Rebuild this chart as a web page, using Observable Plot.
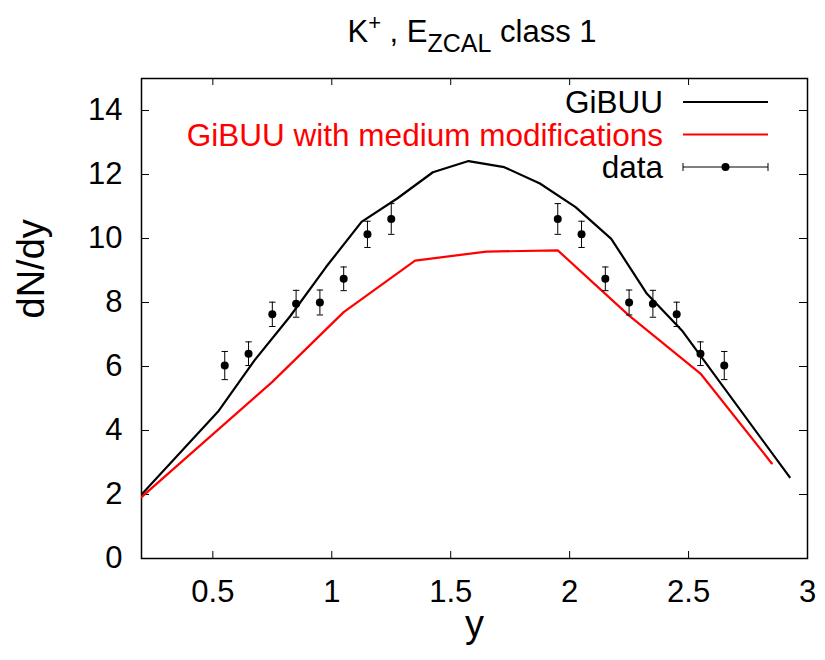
<!DOCTYPE html>
<html><head><meta charset="utf-8">
<script src="https://cdn.jsdelivr.net/npm/d3@7"></script>
<script src="https://cdn.jsdelivr.net/npm/@observablehq/plot@0.6"></script>
<style>
body{margin:0;background:#fff;}
svg{font-family:"Liberation Sans",Arial,Helvetica,sans-serif;}
</style>
</head><body><div id="chart"></div>
<script>
// GiBUU (black)
const gibuuX = [0.2, 0.525, 0.675, 0.825, 0.975, 1.125, 1.275, 1.425, 1.575, 1.725, 1.875, 2.025, 2.175, 2.325, 2.475, 2.925];
const gibuuY = [2.0, 4.62, 6.19, 7.57, 9.10, 10.52, 11.25, 12.07, 12.42, 12.23, 11.72, 10.98, 9.99, 8.27, 7.10, 2.54];
// GiBUU with medium modifications (red)
const mediumX = [0.2, 0.75, 1.05, 1.35, 1.65, 1.95, 2.25, 2.55, 2.85];
const mediumY = [1.92, 5.52, 7.70, 9.31, 9.59, 9.63, 7.59, 5.78, 2.97];
// data with errors
const dataX = [0.55, 0.65, 0.75, 0.85, 0.95, 1.05, 1.15, 1.25, 1.95, 2.05, 2.15, 2.25, 2.35, 2.45, 2.55, 2.65];
const dataY = [6.03, 6.40, 7.63, 7.96, 8.00, 8.74, 10.13, 10.61, 10.61, 10.13, 8.74, 8.00, 7.96, 7.63, 6.40, 6.03];
const dataErr = [0.44, 0.37, 0.38, 0.42, 0.39, 0.37, 0.41, 0.48, 0.48, 0.41, 0.37, 0.39, 0.42, 0.38, 0.37, 0.44];
const xTicks = [0.5, 1, 1.5, 2, 2.5, 3];
const yTicks = [0, 2, 4, 6, 8, 10, 12, 14];
const legendLabels = ["GiBUU", "GiBUU with medium modifications", "data"];
const seriesColors = ["#000000", "#ff0000", "#000000"];

const gibuu = gibuuX.map((x, i) => ({x, y: gibuuY[i]}));
const medium = mediumX.map((x, i) => ({x, y: mediumY[i]}));
const data = dataX.map((x, i) => ({x, y: dataY[i], e: dataErr[i]}));

const capSymbol = {
  draw(ctx, size) {
    const w = Math.sqrt(size) / 2;
    ctx.moveTo(-w, 0);
    ctx.lineTo(w, 0);
  }
};

const W = 825, H = 660, mL = 141, mR = 18, mT = 78, mB = 102;
const frameW = W - mL - mR, frameH = H - mT - mB;

const chart = Plot.plot({
  width: W, height: H,
  marginLeft: mL, marginRight: mR, marginTop: mT, marginBottom: mB,
  style: {color: "#000", background: "#fff", fontFamily: "Liberation Sans, Arial, sans-serif"},
  x: {domain: [0.2, 3]},
  y: {domain: [0, 15]},
  marks: [
    // inward ticks on all four sides
    Plot.tickX(xTicks, {x: d => d, insetTop: frameH - 7, stroke: "#000", strokeWidth: 1}),
    Plot.tickX(xTicks, {x: d => d, insetBottom: frameH - 7, stroke: "#000", strokeWidth: 1}),
    Plot.tickY(yTicks, {y: d => d, insetRight: frameW - 8, stroke: "#000", strokeWidth: 1}),
    Plot.tickY(yTicks, {y: d => d, insetLeft: frameW - 8, stroke: "#000", strokeWidth: 1}),
    Plot.axisX(xTicks, {tickSize: 0, tickPadding: 21, fontSize: 31, tickFormat: d => String(d), label: null}),
    Plot.axisY(yTicks, {tickSize: 0, tickPadding: 19, fontSize: 31, tickFormat: d => String(d), label: null}),
    Plot.frame({stroke: "#000", strokeWidth: 1.5}),
    Plot.line(gibuu, {x: "x", y: "y", stroke: seriesColors[0], strokeWidth: 2.2, clip: true}),
    Plot.line(medium, {x: "x", y: "y", stroke: seriesColors[1], strokeWidth: 2.2, clip: true}),
    Plot.ruleX(data, {x: "x", y1: d => d.y - d.e, y2: d => d.y + d.e, stroke: "#000", strokeWidth: 1}),
    Plot.dot(data, {x: "x", y: d => d.y - d.e, symbol: capSymbol, r: 3.6, stroke: "#000", strokeWidth: 1, fill: "none"}),
    Plot.dot(data, {x: "x", y: d => d.y + d.e, symbol: capSymbol, r: 3.6, stroke: "#000", strokeWidth: 1, fill: "none"}),
    Plot.dot(data, {x: "x", y: "y", r: 4, fill: "#000", stroke: "none"}),
    Plot.text(["y"], {frameAnchor: "bottom", dy: 78, fontSize: 38, fill: "#000"}),
    Plot.text(["dN/dy"], {frameAnchor: "left", dx: -110, rotate: -90, fontSize: 38, fill: "#000"})
  ]
});

document.getElementById("chart").appendChild(chart);

const svg = d3.select(chart);
// title with superscript and subscript
const t = svg.append("text")
  .attr("x", 472).attr("y", 42)
  .attr("text-anchor", "middle")
  .attr("font-size", 31)
  .attr("fill", "#000");
t.append("tspan").text("K");
t.append("tspan").attr("font-size", 22).attr("dy", -12).text("+");
t.append("tspan").attr("dy", 12).text(" , E");
t.append("tspan").attr("font-size", 25).attr("dy", 10).text("ZCAL");
t.append("tspan").attr("dy", -10).text(" class 1");

// legend
const legX = 663, sx1 = 683, sx2 = 768;
const rowY = [102, 134.5, 167];
const leg = svg.append("g").attr("font-size", 31.5);
legendLabels.forEach((lab, i) => {
  leg.append("text").attr("x", legX).attr("y", rowY[i]).attr("dy", "0.35em")
    .attr("text-anchor", "end").attr("fill", seriesColors[i]).text(lab);
  if (i < 2) {
    leg.append("line").attr("x1", sx1).attr("x2", sx2).attr("y1", rowY[i]).attr("y2", rowY[i])
      .attr("stroke", seriesColors[i]).attr("stroke-width", 2.2);
  } else {
    leg.append("line").attr("x1", sx1).attr("x2", sx2).attr("y1", rowY[i]).attr("y2", rowY[i])
      .attr("stroke", "#000").attr("stroke-width", 1);
    [sx1, sx2].forEach(x => leg.append("line").attr("x1", x).attr("x2", x)
      .attr("y1", rowY[i] - 4).attr("y2", rowY[i] + 4).attr("stroke", "#000").attr("stroke-width", 1));
    leg.append("circle").attr("cx", (sx1 + sx2) / 2).attr("cy", rowY[i]).attr("r", 4).attr("fill", "#000");
  }
});
</script>
</body></html>
